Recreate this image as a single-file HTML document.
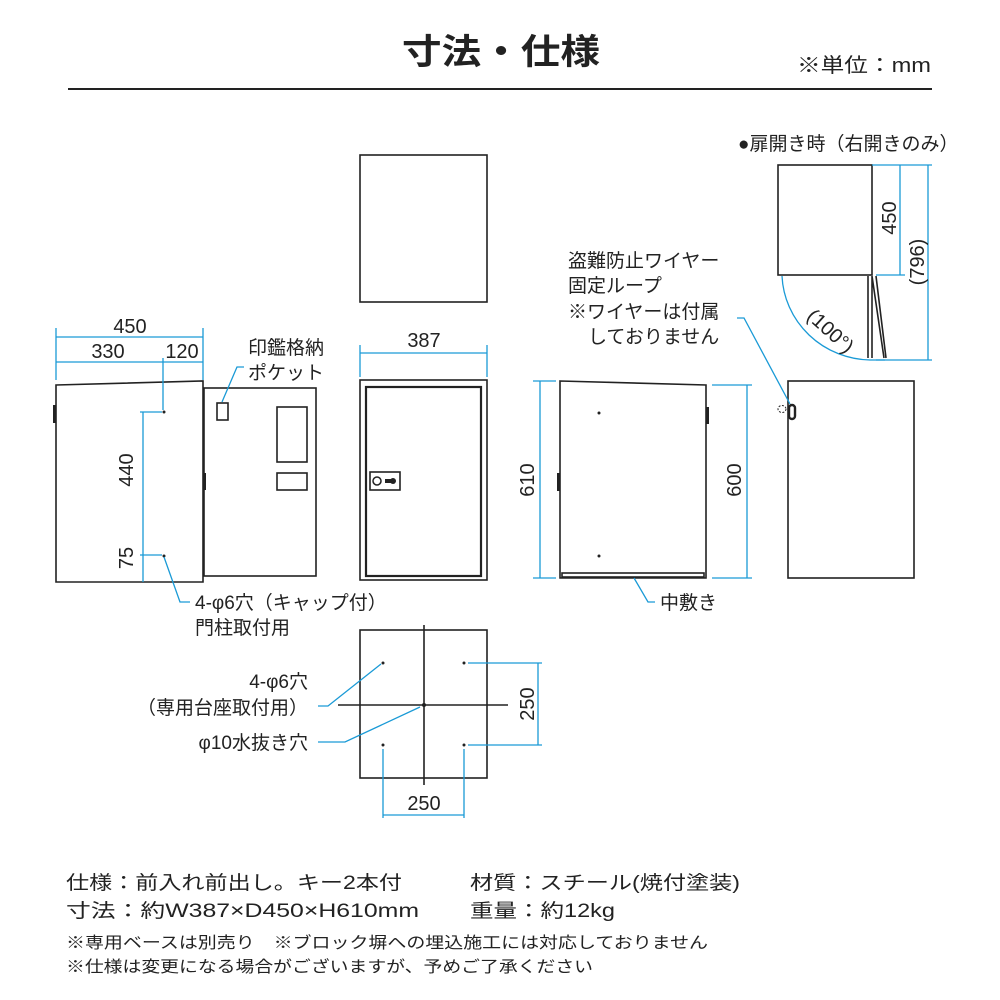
<!DOCTYPE html>
<html><head><meta charset="utf-8"><style>
html,body{margin:0;padding:0;background:#fff;}
svg{display:block;}
text{font-family:"Liberation Sans","Noto Sans CJK JP",sans-serif;fill:#222;}
.k{stroke:#222;fill:none;stroke-width:1.6;}
.b{stroke:#1a9ad6;fill:none;stroke-width:1.3;}
</style></head><body>
<svg width="1000" height="1000" viewBox="0 0 1000 1000" xmlns="http://www.w3.org/2000/svg">
<rect width="1000" height="1000" fill="#fff"/>
<!-- header -->
<text x="402" y="64" font-size="35" font-weight="bold" textLength="198" lengthAdjust="spacingAndGlyphs">寸法・仕様</text>
<text x="797" y="72" font-size="20" textLength="134" lengthAdjust="spacingAndGlyphs">※単位：mm</text>
<line x1="68" y1="89" x2="932" y2="89" stroke="#222" stroke-width="2"/>

<!-- left side view -->
<path class="k" d="M56 385 L203 381 L203 582 L56 582 Z"/>
<rect x="53" y="405" width="3" height="18" fill="#222"/>
<rect class="k" x="204" y="388" width="112" height="188"/>
<rect x="203" y="473" width="3" height="17" fill="#222"/>
<rect class="k" x="217" y="403" width="11" height="17"/>
<rect class="k" x="277" y="407" width="30" height="55"/>
<rect class="k" x="277" y="473" width="30" height="17"/>
<circle cx="164" cy="412" r="1.5" fill="#222"/>
<circle cx="164" cy="556" r="1.5" fill="#222"/>
<path class="b" d="M56 328 V380 M203 328 V380 M56 337 H203 M56 362 H203 M163 358 V410 M143 412 V582 M140 412 H162 M140 555 H162 M164 557 L180 602 H190 M222 402 L237 367 H244"/>
<text x="130" y="333" font-size="20" text-anchor="middle">450</text>
<text x="108" y="358" font-size="20" text-anchor="middle">330</text>
<text x="182" y="358" font-size="20" text-anchor="middle">120</text>
<text x="0" y="0" font-size="20" text-anchor="middle" transform="translate(133,470) rotate(-90)">440</text>
<text x="0" y="0" font-size="20" text-anchor="middle" transform="translate(133,558) rotate(-90)">75</text>
<text x="248" y="354" font-size="19">印鑑格納</text>
<text x="248" y="379" font-size="19">ポケット</text>
<text x="195" y="609" font-size="19">4-φ6穴（キャップ付）</text>
<text x="195" y="634" font-size="19">門柱取付用</text>

<!-- top view -->
<rect class="k" x="360" y="155" width="127" height="147"/>
<!-- front -->
<path class="b" d="M360 345 V377 M487 345 V377 M360 353 H487"/>
<text x="424" y="347" font-size="20" text-anchor="middle">387</text>
<rect class="k" x="360" y="380" width="127" height="200"/>
<rect x="366" y="387" width="115" height="189" fill="none" stroke="#222" stroke-width="2.2"/>
<rect class="k" x="370" y="472" width="30" height="18" stroke-width="1.3"/>
<circle cx="377" cy="481" r="4" fill="none" stroke="#222" stroke-width="1.5"/>
<circle cx="393" cy="481" r="3" fill="#222"/>
<rect x="385" y="479" width="6" height="4" fill="#222"/>

<!-- right side view -->
<path class="k" d="M560 381 L706 385 L706 578 L560 578 Z"/>
<rect x="706" y="407" width="3" height="17" fill="#222"/>
<rect x="557" y="473" width="3" height="18" fill="#222"/>
<rect class="k" x="562" y="573" width="142" height="4" stroke-width="1.2"/>
<circle cx="599" cy="413" r="1.5" fill="#222"/>
<circle cx="599" cy="556" r="1.5" fill="#222"/>
<path class="b" d="M533 381 H556 M533 578 H556 M540 381 V578 M712 385 H752 M712 578 H752 M747 385 V578 M634 578 L648 602 H655"/>
<text x="0" y="0" font-size="20" text-anchor="middle" transform="translate(534,480) rotate(-90)">610</text>
<text x="0" y="0" font-size="20" text-anchor="middle" transform="translate(741,480) rotate(-90)">600</text>
<text x="660" y="609" font-size="19">中敷き</text>

<!-- back view -->
<rect class="k" x="788" y="381" width="126" height="197"/>
<ellipse cx="782" cy="409" rx="4" ry="3.5" fill="none" stroke="#222" stroke-width="1" stroke-dasharray="2 1.5"/>
<rect x="789" y="405" width="6" height="14" rx="3" fill="none" stroke="#222" stroke-width="2.4"/>
<path class="b" d="M790 404 L744 318 H737"/>
<text x="568" y="267" font-size="19">盗難防止ワイヤー</text>
<text x="568" y="292" font-size="19">固定ループ</text>
<text x="568" y="318" font-size="19">※ワイヤーは付属</text>
<text x="588" y="343" font-size="19">しておりません</text>

<!-- door open view -->
<text x="738" y="150" font-size="19">●扉開き時（右開きのみ）</text>
<rect class="k" x="778" y="165" width="94" height="110"/>
<path class="k" d="M868 276 L868 358 M872 276 L872 358 M872 276 L884 358 M876 276 L886 358" stroke-width="1.2"/>
<path class="b" d="M782 276 A90 88 0 0 0 870 360 L885 360"/>
<path class="b" d="M876 165 H905 M876 275 H905 M900 165 V275 M876 360 H932 M872 165 H932 M928 165 V360"/>
<text x="0" y="0" font-size="20" text-anchor="middle" transform="translate(896,218) rotate(-90)">450</text>
<text x="0" y="0" font-size="20" text-anchor="middle" transform="translate(924,262) rotate(-90)">(796)</text>
<text x="0" y="0" font-size="20" text-anchor="middle" transform="translate(826,336) rotate(42)">(100°)</text>

<!-- bottom view -->
<rect class="k" x="360" y="630" width="127" height="148"/>
<path class="k" d="M338 705 H508 M424 625 V785" stroke-width="1.3"/>
<circle cx="424" cy="705" r="2" fill="#222"/>
<circle cx="383" cy="663" r="1.5" fill="#222"/>
<circle cx="464" cy="663" r="1.5" fill="#222"/>
<circle cx="383" cy="745" r="1.5" fill="#222"/>
<circle cx="464" cy="745" r="1.5" fill="#222"/>
<path class="b" d="M468 663 H542 M468 745 H542 M538 663 V745 M383 749 V818 M464 749 V818 M383 815 H464 M318 706 H328 L381 664 M318 742 H345 L420 707"/>
<text x="0" y="0" font-size="20" text-anchor="middle" transform="translate(534,704) rotate(-90)">250</text>
<text x="424" y="810" font-size="20" text-anchor="middle">250</text>
<text x="308" y="688" font-size="19" text-anchor="end">4-φ6穴</text>
<text x="308" y="714" font-size="19" text-anchor="end">（専用台座取付用）</text>
<text x="308" y="749" font-size="19" text-anchor="end">φ10水抜き穴</text>

<!-- spec text -->
<text x="66" y="889" font-size="19" textLength="336" lengthAdjust="spacingAndGlyphs">仕様：前入れ前出し。キー2本付</text>
<text x="470" y="889" font-size="19" textLength="270" lengthAdjust="spacingAndGlyphs">材質：スチール(焼付塗装)</text>
<text x="66" y="917" font-size="19" textLength="353" lengthAdjust="spacingAndGlyphs">寸法：約W387×D450×H610mm</text>
<text x="470" y="917" font-size="19" textLength="145" lengthAdjust="spacingAndGlyphs">重量：約12kg</text>
<text x="66" y="948" font-size="16" textLength="642" lengthAdjust="spacingAndGlyphs">※専用ベースは別売り　※ブロック塀への埋込施工には対応しておりません</text>
<text x="66" y="972" font-size="16" textLength="527" lengthAdjust="spacingAndGlyphs">※仕様は変更になる場合がございますが、予めご了承ください</text>
</svg>
</body></html>
